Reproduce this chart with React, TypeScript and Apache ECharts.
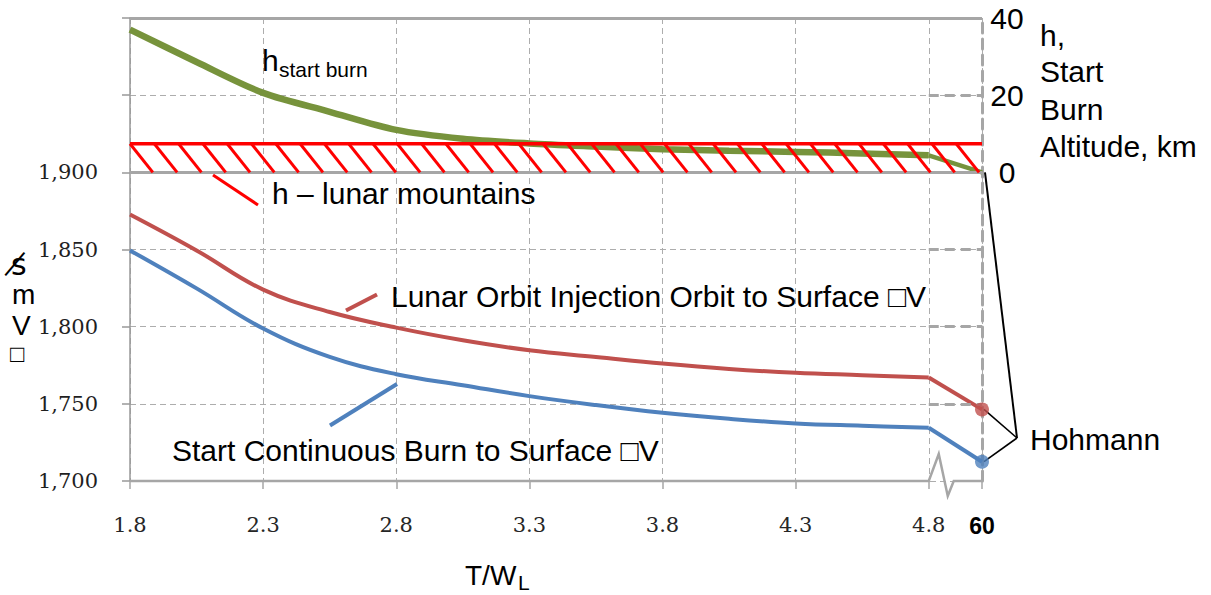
import React, { useEffect, useRef } from "react";
import * as echarts from "echarts";

// ---------- data ----------
const twSamples = [1.8, 2.05, 2.3, 2.55, 2.8, 3.05, 3.3, 3.55, 3.8, 4.05, 4.3, 4.55, 4.8];
const loiToSurfaceDV = [1872.7, 1849.4, 1824.0, 1809.5, 1799.4, 1791.2, 1784.7, 1780.4, 1776.1, 1772.6, 1770.1, 1768.6, 1767.1];
const startBurnToSurfaceDV = [1849.4, 1824.8, 1798.8, 1780.4, 1769.2, 1762.1, 1755.0, 1749.2, 1744.2, 1740.3, 1737.3, 1735.8, 1734.5];
const startBurnAltitudeKm = [37.0, 28.6, 20.6, 15.7, 11.0, 8.7, 7.5, 6.7, 6.0, 5.6, 5.3, 4.9, 4.4];
const hohmannLOI = 1746.4;
const hohmannStartBurn = 1712.5;
const hohmannAltitudeKm = 0;
const lunarMountainsKm = 7.4;
const xTickLabels = ["1.8", "2.3", "2.8", "3.3", "3.8", "4.3", "4.8", "60"];
const X_ORIGIN = 1.8; // T/W at axis start
const X_BREAK = 3.0; // axis position of 4.8
const X_HOHMANN = 3.2; // axis position of "60"
const leftGridValues = [1750, 1800, 1850, 1950];
const solidLeftValues = [1900, 2000];

const SANS = '"Liberation Sans", Arial, sans-serif';
const SERIF = '"DejaVu Serif", serif';

const toAxis = (t: number) => +(t - X_ORIGIN).toFixed(4);

export default function App() {
  const ref = useRef<HTMLDivElement>(null);
  useEffect(() => {
    document.body.style.margin = "0";
    if (!ref.current) return;
    const chart = echarts.init(ref.current, undefined, { renderer: "svg" });
    const last = twSamples.length - 1;

    const txt = (text: string, x: number, y: number, size = 30, extra: any = {}) => ({
      type: "text",
      x,
      y,
      z: 10,
      style: {
        text,
        font: `${extra.weight || "normal"} ${size}px ${extra.family || SANS}`,
        fill: extra.fill || "#000",
        textAlign: extra.align || "left",
        textVerticalAlign: "middle",
      },
    });
    const seg = (x1: number, y1: number, x2: number, y2: number, color: string, width: number) => ({
      type: "line",
      z: 1,
      shape: { x1, y1, x2, y2 },
      style: { stroke: color, lineWidth: width },
    });

    const option: any = {
      animation: false,
      grid: { left: 130, right: 229, top: 18, bottom: 114, containLabel: false },
      xAxis: {
        type: "value",
        min: 0,
        max: X_HOHMANN,
        interval: 0.5,
        axisLine: { show: false, onZero: false },
        axisTick: { show: true, length: 8, lineStyle: { color: "#A6A6A6", width: 1.5 } },
        axisLabel: {
          margin: 33,
          fontFamily: SERIF,
          fontSize: 21,
          color: "#262626",
          formatter: (v: number) => {
            if (v > X_BREAK + 0.05) return "{b|" + xTickLabels[xTickLabels.length - 1] + "}";
            return xTickLabels[Math.round(v / 0.5)] ?? "";
          },
          rich: { b: { fontFamily: SANS, fontWeight: "bold", fontSize: 23, color: "#000" } },
        },
        splitLine: { show: true, lineStyle: { color: "#ADADAD", width: 1, type: [6, 4] } },
      },
      yAxis: [
        {
          type: "value",
          min: 1700,
          max: 2000,
          interval: 50,
          position: "left",
          axisLine: { show: true, onZero: false, lineStyle: { color: "#999", width: 1.5 } },
          axisTick: { show: true, length: 8, lineStyle: { color: "#999", width: 1.5 } },
          axisLabel: {
            margin: 32,
            fontFamily: SERIF,
            fontSize: 21,
            color: "#1f1f1f",
            formatter: (v: number) => (v <= 1900 ? v.toLocaleString("en-US") : ""),
          },
          splitLine: { show: true, lineStyle: { color: "#ADADAD", width: 1, type: [6, 4] } },
        },
        {
          type: "value",
          min: -80,
          max: 40,
          interval: 20,
          position: "right",
          axisLine: { show: true, onZero: false, lineStyle: { color: "#A6A6A6", width: 3, type: [10, 6] } },
          axisTick: { show: false },
          axisLabel: {
            margin: 25,
            align: "center",
            fontFamily: SANS,
            fontSize: 30,
            color: "#000",
            formatter: (v: number) => (v >= 0 ? String(v) : ""),
          },
          splitLine: { show: false },
        },
      ],
      series: [
        {
          // reference lines (solid and thick dashed grid parts)
          type: "line",
          yAxisIndex: 0,
          z: 1,
          data: [[0, 1700]],
          symbol: "none",
          lineStyle: { width: 0 },
          silent: true,
          markLine: {
            silent: true,
            symbol: "none",
            label: { show: false },
            data: [
              ...solidLeftValues.map((v) => ({ yAxis: v, lineStyle: { color: "#A6A6A6", width: 3, type: "solid" } })),
              ...leftGridValues.map((v) => [
                { coord: [X_BREAK, v], lineStyle: { color: "#A6A6A6", width: 3, type: [10, 6] } },
                { coord: [X_HOHMANN, v] },
              ]),
            ],
          },
        },
        {
          type: "custom",
          yAxisIndex: 0,
          z: 2,
          clip: false,
          silent: true,
          data: [[0, 1700]],
          renderItem: (_p: any, api: any) => {
            const a = api.coord([0, 1700]);
            const b = api.coord([X_BREAK, 1700]);
            const c = api.coord([X_HOHMANN, 1700]);
            return {
              type: "polyline",
              shape: {
                points: [a, b, [b[0] + 10, b[1] - 27], [b[0] + 19, b[1] + 15], [b[0] + 25, b[1]], c],
              },
              style: { stroke: "#A6A6A6", lineWidth: 2.5, fill: "none" },
            };
          },
        },
        {
          type: "line",
          yAxisIndex: 1,
          z: 3,
          smooth: 0.3,
          showSymbol: false,
          symbol: "none",
          lineStyle: { color: "#77933C", width: 6.5 },
          data: twSamples.map((t, i) => [toAxis(t), startBurnAltitudeKm[i]]),
        },
        {
          type: "line",
          yAxisIndex: 1,
          z: 3,
          symbol: "none",
          lineStyle: { color: "#77933C", width: 4.5 },
          data: [
            [toAxis(twSamples[last]), startBurnAltitudeKm[last]],
            [X_HOHMANN, hohmannAltitudeKm],
          ],
        },
        {
          type: "custom",
          yAxisIndex: 1,
          z: 5,
          clip: false,
          silent: true,
          data: [[0, lunarMountainsKm]],
          renderItem: (_p: any, api: any) => {
            const top = api.coord([0, lunarMountainsKm]);
            const bot = api.coord([0, 0]);
            const right = api.coord([X_HOHMANN, lunarMountainsKm]);
            const h = bot[1] - top[1];
            const dx = 0.8 * h;
            const children: any[] = [
              {
                type: "line",
                shape: { x1: top[0], y1: top[1], x2: right[0], y2: top[1] },
                style: { stroke: "#FF0000", lineWidth: 3.5 },
              },
            ];
            for (let x = top[0]; x + dx <= right[0] + 0.5; x += 24.3) {
              children.push({
                type: "line",
                shape: { x1: x, y1: top[1], x2: x + dx, y2: bot[1] },
                style: { stroke: "#FF0000", lineWidth: 3 },
              });
            }
            return { type: "group", children };
          },
        },
        {
          type: "line",
          yAxisIndex: 0,
          z: 3,
          smooth: 0.4,
          symbol: "none",
          lineStyle: { color: "#C0504D", width: 4 },
          data: twSamples.map((t, i) => [toAxis(t), loiToSurfaceDV[i]]),
        },
        {
          type: "line",
          yAxisIndex: 0,
          z: 3,
          symbol: "none",
          lineStyle: { color: "#C0504D", width: 4 },
          data: [
            [toAxis(twSamples[last]), loiToSurfaceDV[last]],
            [X_HOHMANN, hohmannLOI],
          ],
        },
        {
          type: "line",
          yAxisIndex: 0,
          z: 3,
          smooth: 0.4,
          symbol: "none",
          lineStyle: { color: "#4F81BD", width: 4 },
          data: twSamples.map((t, i) => [toAxis(t), startBurnToSurfaceDV[i]]),
        },
        {
          type: "line",
          yAxisIndex: 0,
          z: 3,
          symbol: "none",
          lineStyle: { color: "#4F81BD", width: 4 },
          data: [
            [toAxis(twSamples[last]), startBurnToSurfaceDV[last]],
            [X_HOHMANN, hohmannStartBurn],
          ],
        },
        {
          type: "scatter",
          yAxisIndex: 0,
          z: 6,
          symbolSize: 14,
          data: [
            { value: [X_HOHMANN, hohmannLOI], itemStyle: { color: "#C0504D" } },
            { value: [X_HOHMANN, hohmannStartBurn], itemStyle: { color: "#4F81BD" } },
          ],
        },
      ],
    };
    chart.setOption(option);

    const g0 = chart.convertToPixel({ xAxisIndex: 0, yAxisIndex: 1 }, [X_HOHMANN, hohmannAltitudeKm]) as number[];
    const r0 = chart.convertToPixel({ xAxisIndex: 0, yAxisIndex: 0 }, [X_HOHMANN, hohmannLOI]) as number[];
    const b0 = chart.convertToPixel({ xAxisIndex: 0, yAxisIndex: 0 }, [X_HOHMANN, hohmannStartBurn]) as number[];
    const jx = 1017;
    const jy = 438;

    chart.setOption({
      graphic: [
        seg(g0[0] + 3, g0[1], jx, jy, "#000", 2),
        seg(r0[0] + 2, r0[1], jx, jy, "#000", 1.6),
        seg(b0[0] + 2, b0[1], jx, jy, "#000", 1.6),
        seg(213, 175, 258, 205, "#FF0000", 3),
        seg(346, 310.5, 377, 294.5, "#C0504D", 4),
        seg(330, 425.5, 397, 384, "#4F81BD", 4),
        txt("h", 262, 60.5, 30),
        txt("start burn", 279, 69.5, 21),
        txt("h – lunar mountains", 272, 193),
        txt("Lunar Orbit Injection Orbit to Surface □V", 391, 296.5),
        txt("Start Continuous Burn to Surface □V", 172, 450.5),
        txt("Hohmann", 1030, 439.5),
        txt("T/W", 465, 575.5, 28),
        txt("L", 518, 582, 21),
        txt("h,", 1040, 35),
        txt("Start", 1040, 71.5),
        txt("Burn", 1040, 109.5),
        txt("Altitude, km", 1040, 146.5),
        txt("s\u0338", 11, 264, 30, { family: '"DejaVu Sans", sans-serif' }),
        txt("m", 12, 294, 28),
        txt("V", 12, 325, 28),
        txt("□", 10, 353, 24),
      ],
    });

    return () => chart.dispose();
  }, []);
  return <div ref={ref} style={{ width: 1211, height: 595 }} />;
}
